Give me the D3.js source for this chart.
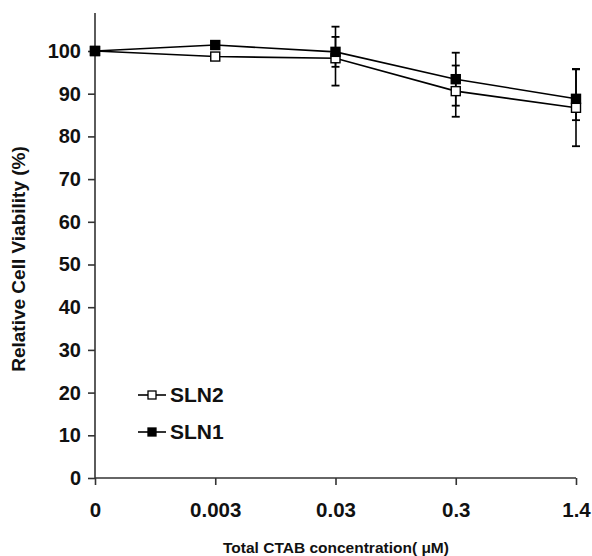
<!DOCTYPE html>
<html>
<head>
<meta charset="utf-8">
<script src="https://cdn.jsdelivr.net/npm/d3@7"></script>
<style>
  body { margin: 0; background: #fff; }
  svg text { font-family: "Liberation Sans", Arial, sans-serif; font-weight: bold; fill: #111; }
</style>
</head>
<body>
<div id="canvas"></div>
<script>
//categories on x (equal spacing)
var conc = ['0', '0.003', '0.03', '0.3', '1.4'];

//series values
var sln1 = [100, 101.4, 99.8, 93.4, 88.8];
var sln1Up = [0, 0, 3.5, 6.2, 7.0];
var sln1Down = [0, 0, 3.5, 6.2, 5.0];

var sln2 = [100, 98.7, 98.3, 90.6, 86.7];
var sln2Up = [0, 0, 7.4, 6.0, 9.0];
var sln2Down = [0, 0, 6.4, 6.0, 9.0];

var yTicks = [0, 10, 20, 30, 40, 50, 60, 70, 80, 90, 100];

var cv = {
  'width': 592,
  'height': 556,
  'left': 95,
  'right': 576,
  'top': 13,
  'bottom': 478
};

var svg = d3.select('#canvas').append('svg')
  .attr('width', cv.width)
  .attr('height', cv.height);

//scales
var x = d3.scalePoint()
  .domain(conc)
  .range([cv.left, cv.right]);

var y = d3.scaleLinear()
  .domain([0, 100])
  .range([cv.bottom, 51]);

//axes
var yAxis = svg.append('g')
  .attr('transform', 'translate(' + cv.left + ',0)')
  .call(d3.axisLeft(y).tickValues(yTicks).tickSize(7).tickPadding(7).tickSizeOuter(0));
yAxis.select('.domain').attr('d', 'M0,' + cv.bottom + 'V' + cv.top);

var xAxis = svg.append('g')
  .attr('transform', 'translate(0,' + cv.bottom + ')')
  .call(d3.axisBottom(x).tickSize(7).tickPadding(17).tickSizeOuter(0));
xAxis.select('.domain').attr('d', 'M' + cv.left + ',0H' + cv.right);

svg.selectAll('.domain, .tick line')
  .attr('stroke', '#333')
  .attr('stroke-width', 1.6);
yAxis.selectAll('.tick text').attr('font-size', 20);
xAxis.selectAll('.tick text').attr('font-size', 20.5);

//axis titles
svg.append('text')
  .attr('transform', 'translate(25,' + 259 + ') rotate(-90)')
  .attr('text-anchor', 'middle')
  .attr('font-size', 19)
  .text('Relative Cell Viability (%)');

svg.append('text')
  .attr('x', 336)
  .attr('y', 553)
  .attr('text-anchor', 'middle')
  .attr('font-size', 15.5)
  .text('Total CTAB concentration( μM)');

//series
var series = [
  {name: 'SLN2', vals: sln2, up: sln2Up, down: sln2Down, fill: '#fff'},
  {name: 'SLN1', vals: sln1, up: sln1Up, down: sln1Down, fill: '#000'}
];

var line = d3.line()
  .x((d, i) => x(conc[i]))
  .y(d => y(d));

series.forEach(function(s) {
  var g = svg.append('g');
  //error bars
  s.vals.forEach(function(v, i) {
    if (s.up[i] === 0 && s.down[i] === 0) return;
    var cx = x(conc[i]);
    var y1 = y(v + s.up[i]);
    var y2 = y(v - s.down[i]);
    g.append('line')
      .attr('x1', cx).attr('x2', cx)
      .attr('y1', y1).attr('y2', y2)
      .attr('stroke', '#000').attr('stroke-width', 1.6);
    [y1, y2].forEach(function(yy) {
      g.append('line')
        .attr('x1', cx - 4).attr('x2', cx + 4)
        .attr('y1', yy).attr('y2', yy)
        .attr('stroke', '#000').attr('stroke-width', 1.8);
    });
  });
});

series.forEach(function(s) {
  svg.append('path')
    .datum(s.vals)
    .attr('d', line)
    .attr('fill', 'none')
    .attr('stroke', '#000')
    .attr('stroke-width', 1.6);
});

series.forEach(function(s) {
  svg.selectAll('.pt-' + s.name)
    .data(s.vals)
    .enter().append('rect')
    .attr('x', (d, i) => x(conc[i]) - 4.5)
    .attr('y', d => y(d) - 4.5)
    .attr('width', 9)
    .attr('height', 9)
    .attr('fill', s.fill)
    .attr('stroke', '#000')
    .attr('stroke-width', 1.4);
});

//legend
var legend = svg.append('g');
series.forEach(function(s, i) {
  var ly = 395 + i * 37;
  legend.append('line')
    .attr('x1', 138).attr('x2', 166)
    .attr('y1', ly).attr('y2', ly)
    .attr('stroke', '#000').attr('stroke-width', 1.6);
  legend.append('rect')
    .attr('x', 148).attr('y', ly - 4)
    .attr('width', 8).attr('height', 8)
    .attr('fill', s.fill)
    .attr('stroke', '#000')
    .attr('stroke-width', 1.3);
  legend.append('text')
    .attr('x', 170)
    .attr('y', ly + 7)
    .attr('font-size', 21)
    .text(s.name);
});
</script>
</body>
</html>
